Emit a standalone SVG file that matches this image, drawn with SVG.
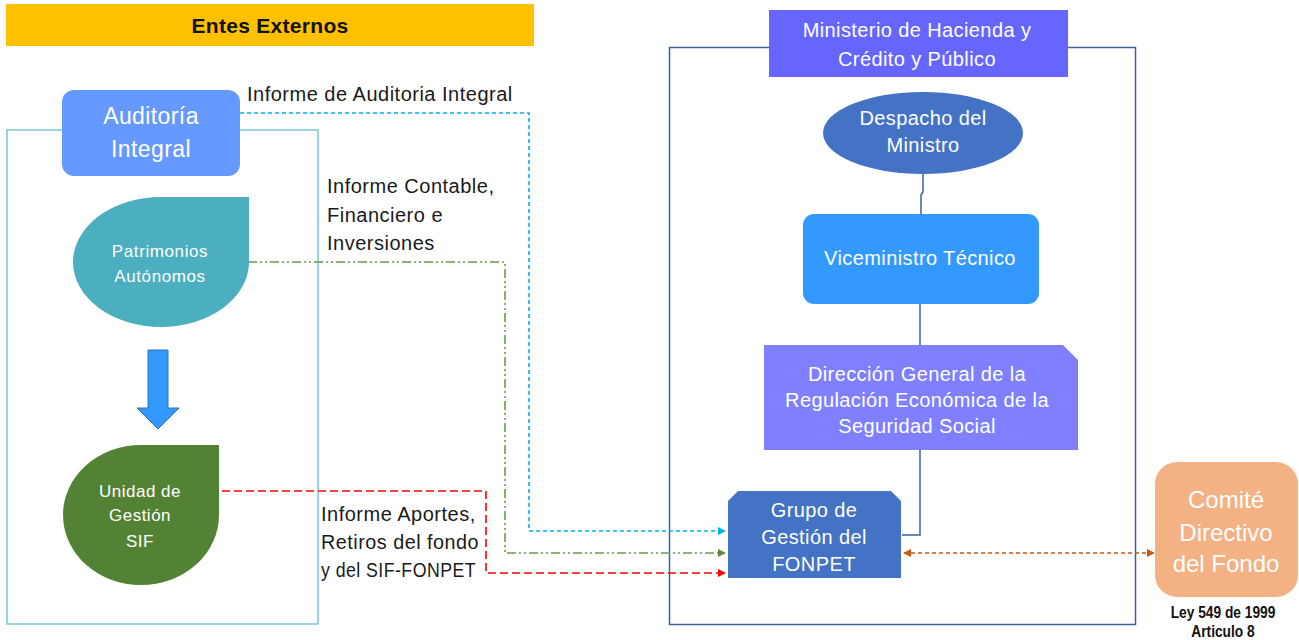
<svg xmlns="http://www.w3.org/2000/svg" width="1299" height="640" viewBox="0 0 1299 640">
<style>
text{font-family:"Liberation Sans",Arial,sans-serif}
.w{fill:#fff}
.lbl{fill:#1a1a1a;font-size:20px;letter-spacing:0.5px}
.n19{font-size:20px;letter-spacing:0.4px}
.c{text-anchor:middle}
.conn{fill:none;stroke-width:1.6}
</style>
<defs>
<marker id="mb" markerWidth="8" markerHeight="8" refX="7" refY="4" orient="auto" markerUnits="userSpaceOnUse"><path d="M0,0 L8,4 L0,8 Z" fill="#00B0F0"/></marker>
<marker id="mg" markerWidth="8" markerHeight="8" refX="7" refY="4" orient="auto" markerUnits="userSpaceOnUse"><path d="M0,0 L8,4 L0,8 Z" fill="#5B8C3A"/></marker>
<marker id="mr" markerWidth="8" markerHeight="8" refX="7" refY="4" orient="auto" markerUnits="userSpaceOnUse"><path d="M0,0 L8,4 L0,8 Z" fill="#FF0000"/></marker>
<marker id="mo" markerWidth="8" markerHeight="8" refX="7" refY="4" orient="auto-start-reverse" markerUnits="userSpaceOnUse"><path d="M0,0 L8,4 L0,8 Z" fill="#C55A11"/></marker>
</defs>
<rect width="1299" height="640" fill="#fff"/>

<g id="entes-externos">
<rect x="6" y="4" width="528" height="42" fill="#FFC000"/>
<text x="270" y="33" class="c" font-size="21" font-weight="bold" fill="#111" letter-spacing="0.3">Entes Externos</text>
</g>

<g id="frame-externos">
<rect x="7" y="130" width="311" height="494" fill="none" stroke="#79C7D3" stroke-width="1.5"/>
</g>

<g id="frame-ministerio">
<rect x="669.5" y="47.5" width="466" height="577" fill="none" stroke="#3F5FA0" stroke-width="1.5"/>
</g>

<g id="connectors">
<path class="conn" d="M240,113 H529 V531 H725" stroke="#00B0F0" stroke-dasharray="4,3" marker-end="url(#mb)"/>
<path class="conn" d="M248,262 H505 V553 H725" stroke="#6A9A4A" stroke-dasharray="9,3,2,3,2,3" marker-end="url(#mg)"/>
<path class="conn" d="M222,491 H486 V573 H725" stroke="#FF0000" stroke-dasharray="8,4" marker-end="url(#mr)"/>
<path class="conn" d="M904,553 H1154" stroke="#C55A11" stroke-dasharray="4,3" marker-start="url(#mo)" marker-end="url(#mo)"/>
<path d="M923,174 V192 L921,195 V214" fill="none" stroke="#3F5FA0" stroke-width="1.5"/>
<path d="M920,304 V345" fill="none" stroke="#3F5FA0" stroke-width="1.5"/>
<path d="M920,450 V535 H902" fill="none" stroke="#3F5FA0" stroke-width="1.5"/>
<path d="M148,350 H168 V408 H179 L158,429 L137,408 H148 Z" fill="#3399FF" stroke="#2E75B6" stroke-width="1"/>
</g>

<g id="auditoria-integral">
<rect x="62" y="90" width="178" height="86" rx="12" fill="#6699FF"/>
<text x="151" y="124" class="w c" font-size="23" letter-spacing="0.4">Auditoría</text>
<text x="151" y="157" class="w c" font-size="23" letter-spacing="0.4">Integral</text>
</g>

<g id="patrimonios-autonomos">
<path d="M161,197 H249 V262 A88,65 0 1 1 161,197 Z" fill="#4BAFBF"/>
<text x="160" y="257" class="w c" font-size="17" letter-spacing="0.6">Patrimonios</text>
<text x="160" y="282" class="w c" font-size="17" letter-spacing="0.6">Autónomos</text>
</g>

<g id="unidad-gestion-sif">
<path d="M141,445 H219 V515 A78,70 0 1 1 141,445 Z" fill="#548235"/>
<text x="140" y="497" class="w c" font-size="17" letter-spacing="0.5">Unidad de</text>
<text x="140" y="521" class="w c" font-size="17" letter-spacing="0.5">Gestión</text>
<text x="140" y="547" class="w c" font-size="17" letter-spacing="0.5">SIF</text>
</g>

<g id="labels">
<text x="247" y="101" class="lbl">Informe de Auditoria Integral</text>
<text x="327" y="193" class="lbl">Informe Contable,</text>
<text x="327" y="222" class="lbl">Financiero e</text>
<text x="327" y="250" class="lbl">Inversiones</text>
<text x="321" y="521" class="lbl">Informe Aportes,</text>
<text x="321" y="549" class="lbl" textLength="158" lengthAdjust="spacingAndGlyphs">Retiros del fondo</text>
<text x="321" y="577" class="lbl" textLength="155" lengthAdjust="spacingAndGlyphs">y del SIF-FONPET</text>
</g>

<g id="ministerio">
<rect x="769" y="10" width="299" height="67" fill="#6666FF"/>
<text x="917" y="37" class="w c n19">Ministerio de Hacienda y</text>
<text x="917" y="66" class="w c n19">Crédito y Público</text>
</g>

<g id="despacho-ministro">
<ellipse cx="923" cy="133" rx="100" ry="41" fill="#4472C4"/>
<text x="923" y="125" class="w c n19">Despacho del</text>
<text x="923" y="152" class="w c n19">Ministro</text>
</g>

<g id="viceministro-tecnico">
<rect x="803" y="214" width="236" height="90" rx="11" fill="#3399FF"/>
<text x="920" y="265" class="w c n19">Viceministro Técnico</text>
</g>

<g id="direccion-general">
<path d="M764,345 H1063 L1078,360 V450 H764 Z" fill="#7F7FFF"/>
<text x="917" y="381" class="w c n19">Dirección General de la</text>
<text x="917" y="407" class="w c n19">Regulación Económica de la</text>
<text x="917" y="433" class="w c n19">Seguridad Social</text>
</g>

<g id="grupo-fonpet">
<path d="M738,491 H891 L901,501 V578 H728 V501 Z" fill="#4472C4"/>
<text x="814" y="517" class="w c n19">Grupo de</text>
<text x="814" y="544" class="w c n19">Gestión del</text>
<text x="814" y="571" class="w c n19">FONPET</text>
</g>

<g id="comite-directivo">
<rect x="1155" y="462" width="143" height="135" rx="22" fill="#F4B183"/>
<text x="1226" y="508" class="w c" font-size="24">Comité</text>
<text x="1226" y="541" class="w c" font-size="24">Directivo</text>
<text x="1226" y="572" class="w c" font-size="24">del Fondo</text>
<text transform="translate(1223,618) scale(0.86,1)" class="c" font-size="16" font-weight="bold" fill="#111">Ley 549 de 1999</text>
<text transform="translate(1223,637) scale(0.86,1)" class="c" font-size="16" font-weight="bold" fill="#111">Articulo 8</text>
</g>
</svg>
